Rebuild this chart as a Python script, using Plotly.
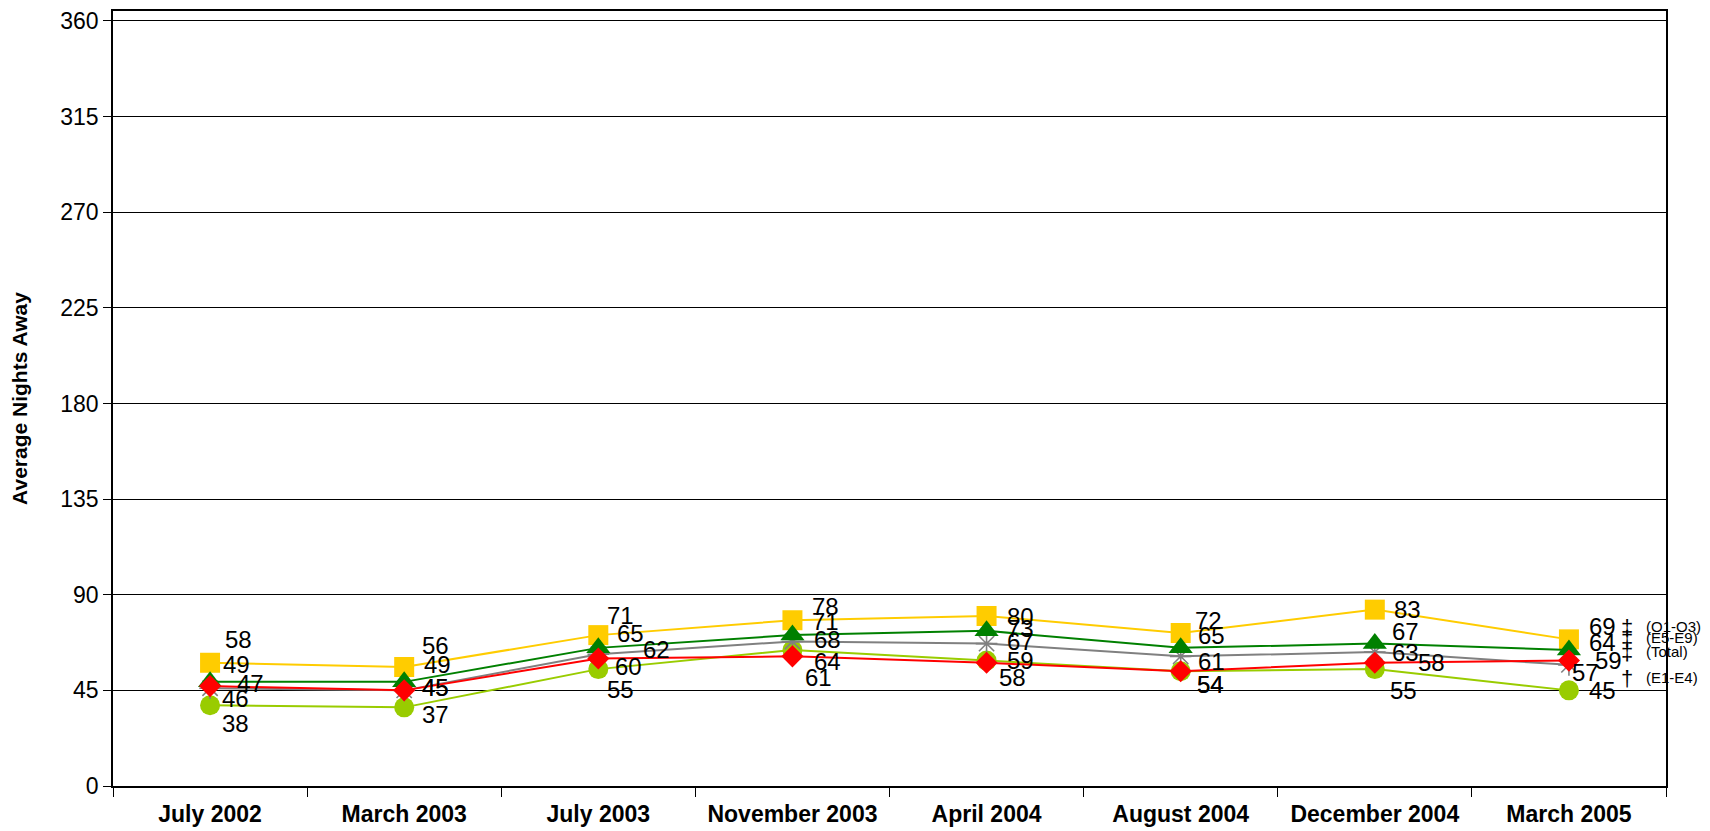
import plotly.graph_objects as go

# ---------------- data ----------------
categories = ["July 2002", "March 2003", "July 2003", "November 2003",
              "April 2004", "August 2004", "December 2004", "March 2005"]

o1_o3 = [58, 56, 71, 78, 80, 72, 83, 69]
e5_e9 = [49, 49, 65, 71, 73, 65, 67, 64]
total = [46, 45, 62, 68, 67, 61, 63, 57]
unlabeled_red = [47, 45, 60, 61, 58, 54, 58, 59]
e1_e4 = [38, 37, 55, 64, 59, 54, 55, 45]

y_ticks = [0, 45, 90, 135, 180, 225, 270, 315, 360]
y_title = "Average Nights Away"

# right-hand labels for the last point
end_labels = {"O1-O3": ("(O1-O3)", "‡"), "E5-E9": ("(E5-E9)", "‡"),
              "Total": ("(Total)", "‡"), "E1-E4": ("(E1-E4)", "†")}

# ---------------- styling ----------------
# label offsets (pixels, dx right, dy down) for each point's value label
yellow_off = [(28, -23), (31, -22), (22, -20), (33, -14), (34, 0), (28, -13), (33, 0), (34, -13)]
green_off = [(26, -17), (33, -17), (32, -14), (33, -14), (34, -2), (31, -12), (31, -12), (34, -8)]
gray_off = [(25, 10), (31, -3), (58, -5), (35, -2), (34, -2), (31, 5), (31, 0), (17, 8)]
red_off = [(40, -3), (31, -3), (30, 8), (26, 21), (26, 15), (30, 13), (57, 0), (40, 0)]
lime_off = [(25, 18), (31, 7), (22, 20), (35, 11), (34, 0), (30, 13), (29, 21), (34, 0)]

series = [
    # name, values, color, symbol, size, label offsets
    ("O1-O3", o1_o3, "#FFCC00", "square", 20, yellow_off),
    ("E1-E4", e1_e4, "#99CC00", "circle", 20, lime_off),
    ("Total", total, "#808080", "asterisk-open", 18, gray_off),
    ("E5-E9", e5_e9, "#008000", "triangle-up", 21, green_off),
    ("Other", unlabeled_red, "#FF0000", "diamond", 17, red_off),
]

FONT = "Liberation Sans, Arial, sans-serif"

fig = go.Figure()
for name, vals, color, symbol, size, offs in series:
    is_open = symbol.endswith("-open")
    fig.add_trace(go.Scatter(
        x=categories, y=vals, name=name,
        mode="lines+markers",
        line=dict(color=color, width=2),
        marker=dict(symbol=symbol, size=size, color=color,
                    line=dict(color=color, width=1.6 if is_open else 0)),
        showlegend=False, cliponaxis=False,
    ))
    for cat, v, (dx, dy) in zip(categories, vals, offs):
        fig.add_annotation(x=cat, y=v, text=str(v), showarrow=False,
                           xanchor="center", yanchor="middle",
                           xshift=dx, yshift=-dy,
                           font=dict(family=FONT, size=24, color="black"))

# right-hand series labels with significance marks
lookup = {"O1-O3": o1_o3, "E5-E9": e5_e9, "Total": total, "E1-E4": e1_e4}
for key, (label, mark) in end_labels.items():
    yv = lookup[key][-1]
    fig.add_annotation(x=categories[-1], y=yv, text=mark, showarrow=False,
                       xanchor="center", yanchor="middle", xshift=58, yshift=12,
                       font=dict(family=FONT, size=22, color="black"))
    fig.add_annotation(x=categories[-1], y=yv, text=label, showarrow=False,
                       xanchor="left", yanchor="middle", xshift=75, yshift=13,
                       font=dict(family=FONT, size=15, color="black"))

# the page body adds an 8px offset; size the figure so the plot lands where it should
fig.update_layout(
    width=1702, height=823,
    margin=dict(l=105, r=44, t=1, b=45),
    paper_bgcolor="white", plot_bgcolor="white",
    font=dict(family=FONT, color="black"),
)
fig.update_xaxes(
    type="category", range=[-0.5, len(categories) - 0.5],
    showline=True, linecolor="black", linewidth=1.5, mirror=True,
    ticks="outside", tickson="boundaries", ticklen=9, tickcolor="black",
    ticklabelstandoff=7,
    showgrid=False,
    tickfont=dict(family=FONT, size=23, color="black", weight="bold"),
)
fig.update_yaxes(
    range=[0, 364.7], tickvals=y_ticks,
    showline=True, linecolor="black", linewidth=1.5, mirror=True,
    ticks="outside", ticklen=8, tickcolor="black",
    showgrid=True, gridcolor="#000000", gridwidth=1, zeroline=False,
    tickfont=dict(family=FONT, size=23, color="black"),
    title=dict(text=y_title, standoff=28,
               font=dict(family=FONT, size=21, color="black", weight="bold")),
)

fig.write_html("out.html")
